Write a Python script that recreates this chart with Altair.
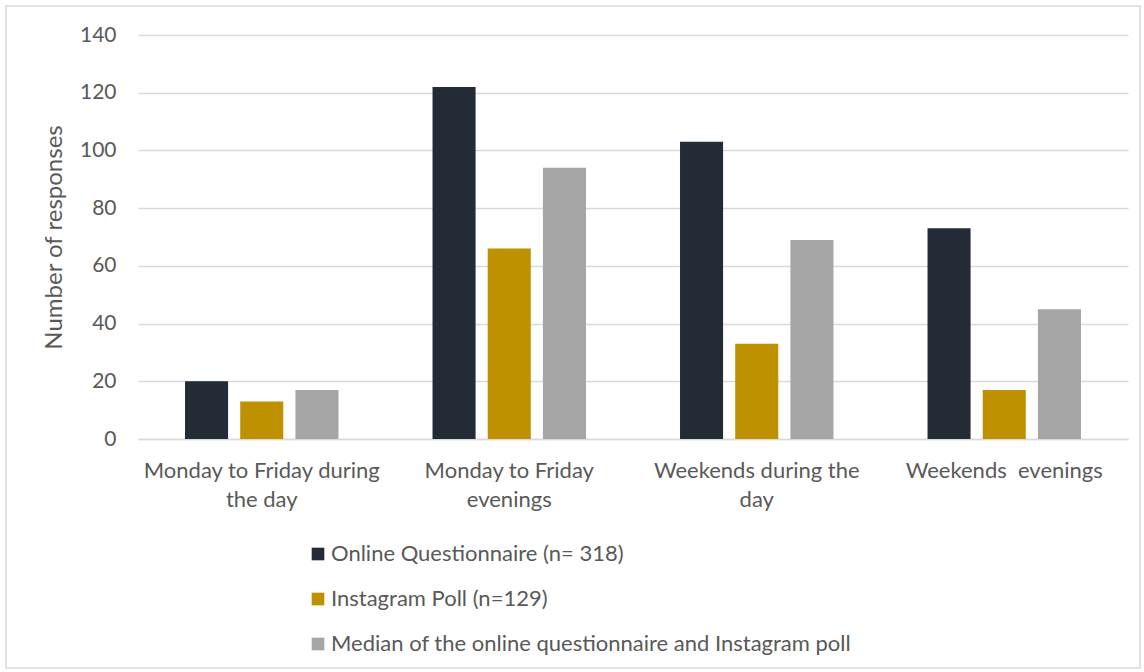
import altair as alt
import pandas as pd

categories = [
    "Monday to Friday during the day",
    "Monday to Friday evenings",
    "Weekends during the day",
    "Weekends  evenings",
]
series = [
    "Online Questionnaire (n= 318)",
    "Instagram Poll (n=129)",
    "Median of the online questionnaire and Instagram poll",
]
online = [20, 122, 103, 73]
instagram = [13, 66, 33, 17]
median = [17, 94, 69, 45]
colors = ["#232B36", "#BF9000", "#A5A5A5"]

rows = []
for s, vals in zip(series, [online, instagram, median]):
    for c, v in zip(categories, vals):
        rows.append({"category": c, "series": s, "value": v})
df = pd.DataFrame(rows)

label_expr = (
    "datum.value == 'Monday to Friday during the day' ? ['Monday to Friday during', 'the day'] : "
    "datum.value == 'Monday to Friday evenings' ? ['Monday to Friday', 'evenings'] : "
    "datum.value == 'Weekends during the day' ? ['Weekends during the', 'day'] : "
    "datum.value == 'Weekends  evenings' ? 'Weekends\u00a0\u00a0evenings' : datum.value"
)

FONT = "Lato"
GREY = "#595959"

bars = alt.Chart(df).mark_bar().encode(
    x=alt.X(
        "category:N",
        sort=categories,
        scale=alt.Scale(paddingInner=0.38, paddingOuter=0.19),
        axis=alt.Axis(
            title=None,
            labelAngle=0,
            labelExpr=label_expr,
            ticks=False,
            domainColor="#D9D9D9",
            domainWidth=1.5,
            labelFontSize=22,
            labelColor=GREY,
            labelFont=FONT,
            labelPadding=21,
            labelLineHeight=29,
            labelLimit=400,
        ),
    ),
    xOffset=alt.XOffset("series:N", sort=series, scale=alt.Scale(paddingInner=0.22, paddingOuter=0)),
    y=alt.Y(
        "value:Q",
        scale=alt.Scale(domain=[0, 140]),
        axis=alt.Axis(
            title="Number of responses",
            values=[0, 20, 40, 60, 80, 100, 120, 140],
            domain=False,
            ticks=False,
            gridColor="#D9D9D9",
            gridWidth=1.5,
            labelFontSize=21,
            labelColor=GREY,
            labelFont=FONT,
            labelPadding=22,
            titleFontSize=24,
            titleColor=GREY,
            titleFont=FONT,
            titleFontWeight="normal",
            titlePadding=13,
        ),
    ),
    color=alt.Color(
        "series:N",
        sort=series,
        scale=alt.Scale(domain=series, range=colors),
        legend=alt.Legend(
            title=None,
            orient="none",
            legendX=169,
            legendY=508,
            direction="vertical",
            symbolType="square",
            symbolSize=160,
            symbolStrokeWidth=0,
            labelFontSize=22,
            labelColor=GREY,
            labelFont=FONT,
            labelLimit=700,
            rowPadding=23,
            labelOffset=2,
            padding=0,
        ),
    ),
)

border = alt.Chart(pd.DataFrame({"a": [0]})).mark_rect(
    fill=None, stroke="#D9D9D9", strokeWidth=1.5
).encode(
    x=alt.value(-132), x2=alt.value(1002), y=alt.value(-29), y2=alt.value(633)
)

chart = alt.layer(bars, border).properties(
    width=990,
    height=404,
    autosize=alt.AutoSizeParams(type="none"),
    padding={"left": 138, "top": 35, "right": 16, "bottom": 233},
    background="white",
).configure_view(stroke=None)

chart.save("out.html", embed_options={"renderer": "svg", "actions": False})
